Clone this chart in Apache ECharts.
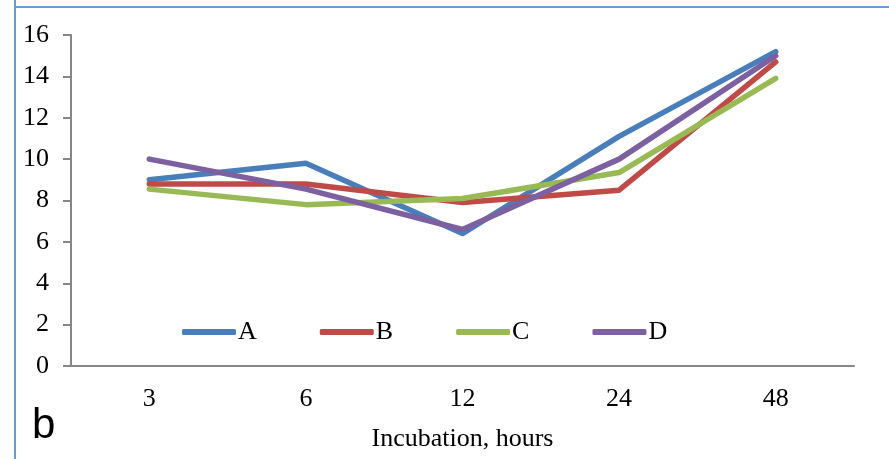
<!DOCTYPE html>
<html>
<head>
<meta charset="utf-8">
<script src="https://cdn.jsdelivr.net/npm/echarts@6/dist/echarts.min.js"></script>
<style>
html,body{margin:0;padding:0;background:#fff;}
#chart{width:889px;height:459px;}
</style>
</head>
<body>
<div id="chart"></div>
<script>
const categories = ['3', '6', '12', '24', '48'];
const seriesA = [9.0, 9.8, 6.4, 11.1, 15.2];
const seriesB = [8.8, 8.8, 7.9, 8.5, 14.7];
const seriesC = [8.55, 7.8, 8.1, 9.35, 13.9];
const seriesD = [10.0, 8.55, 6.6, 10.0, 15.0];
const seriesNames = ['A', 'B', 'C', 'D'];
const colors = ['#4a7ebb', '#be4b48', '#98b954', '#7d60a0'];
const yTicks = {min: 0, max: 16, interval: 2};

const chart = echarts.init(document.getElementById('chart'));
const font = '"Liberation Serif", "Times New Roman", serif';
const data = [seriesA, seriesB, seriesC, seriesD];

chart.setOption({
  animation: false,
  textStyle: {fontFamily: font},
  grid: {left: 71, right: 35, top: 35, bottom: 93, containLabel: false, outerBoundsMode: 'none'},
  legend: {
    data: seriesNames,
    left: 177,
    top: 314,
    icon: 'roundRect',
    itemWidth: 54,
    itemHeight: 6,
    itemGap: 63,
    textStyle: {fontFamily: font, fontSize: 26, color: '#000', padding: [0, 0, 0, -3]}
  },
  xAxis: {
    type: 'category',
    data: categories,
    boundaryGap: true,
    axisLine: {lineStyle: {color: '#868686', width: 2}},
    axisTick: {show: false},
    axisLabel: {fontFamily: font, fontSize: 26, color: '#000', margin: 20},
    name: 'Incubation, hours',
    nameLocation: 'middle',
    nameGap: 60,
    nameTextStyle: {fontFamily: font, fontSize: 26, color: '#000'}
  },
  yAxis: {
    type: 'value',
    min: yTicks.min,
    max: yTicks.max,
    interval: yTicks.interval,
    axisLine: {show: true, lineStyle: {color: '#868686', width: 2}},
    axisTick: {show: true, length: 8, lineStyle: {color: '#868686', width: 2}},
    splitLine: {show: false},
    axisLabel: {fontFamily: font, fontSize: 26, color: '#000', margin: 22}
  },
  series: seriesNames.map((n, i) => ({
    name: n,
    type: 'line',
    data: data[i],
    symbol: 'none',
    color: colors[i],
    lineStyle: {width: 5.5, color: colors[i], cap: 'round', join: 'round'}
  })),
  graphic: [
    {type: 'line', shape: {x1: 15, y1: 0, x2: 15, y2: 459}, style: {stroke: '#6a9bd6', lineWidth: 2}},
    {type: 'line', shape: {x1: 14, y1: 7, x2: 889, y2: 7}, style: {stroke: '#6a9bd6', lineWidth: 2}},
    {type: 'text', left: 32, top: 405, style: {text: 'b', font: '42px "Liberation Sans", Arial, sans-serif', fill: '#000'}}
  ]
});
</script>
</body>
</html>
